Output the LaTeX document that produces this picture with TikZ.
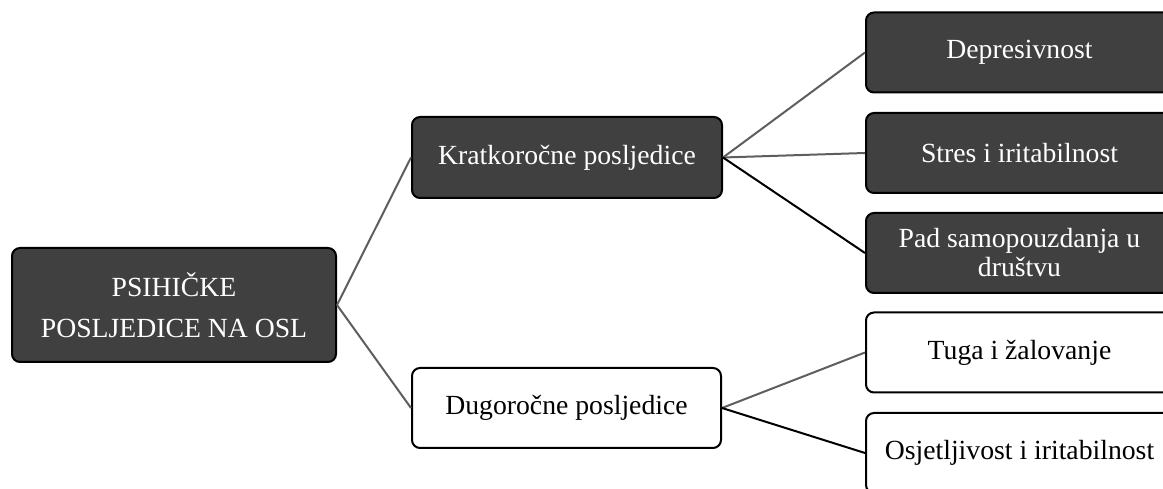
\documentclass[tikz,border=0pt]{standalone}
\usepackage{fontspec}
\setmainfont{Liberation Serif}
\definecolor{boxdark}{HTML}{404040}
\definecolor{linegray}{HTML}{5E5E5E}
\begin{document}
\begin{tikzpicture}[x=1pt,y=1pt,
  darkbox/.style={draw=black, line width=2pt, rounded corners=8pt, fill=boxdark, text=white,
    font=\fontsize{27.7}{29}\selectfont, align=center, inner sep=0pt},
  lightbox/.style={draw=black, line width=2pt, rounded corners=8pt, fill=white, text=black,
    font=\fontsize{27.7}{29}\selectfont, align=center, inner sep=0pt},
  grayline/.style={draw=linegray, line width=2pt},
  blackline/.style={draw=black, line width=2pt}]
\useasboundingbox (0,0) rectangle (1163,489);
\clip (0,0) rectangle (1163,489);
\node[darkbox, minimum width=324pt, minimum height=114pt,
  font=\fontsize{27.7}{41}\selectfont] (root) at (174,184) {PSIHIČKE\\POSLJEDICE NA OSL};
\node[darkbox, minimum width=310pt, minimum height=81pt] (kr) at (567,331.5) {Kratkoročne posljedice};
\node[lightbox, minimum width=309pt, minimum height=80pt] (du) at (566.5,81) {Dugoročne posljedice};
\node[darkbox, minimum width=307pt, minimum height=80pt] (dep) at (1019.5,436.5) {Depresivnost};
\node[darkbox, minimum width=307pt, minimum height=80pt] (str) at (1019.5,336) {Stres i iritabilnost};
\node[darkbox, minimum width=307pt, minimum height=80pt] (pad) at (1019.5,236) {Pad samopouzdanja u\\društvu};
\node[lightbox, minimum width=307pt, minimum height=80pt] (tug) at (1019.5,136.5) {Tuga i žalovanje};
\node[lightbox, minimum width=307pt, minimum height=80pt] (osj) at (1019.5,36) {Osjetljivost i iritabilnost};
\draw[grayline] (root.east) -- (kr.west);
\draw[grayline] (root.east) -- (du.west);
\draw[grayline] (kr.east) -- (dep.west);
\draw[grayline] (kr.east) -- (str.west);
\draw[blackline] (kr.east) -- (pad.west);
\draw[grayline] (du.east) -- (tug.west);
\draw[blackline] (du.east) -- (osj.west);
\end{tikzpicture}
\end{document}
